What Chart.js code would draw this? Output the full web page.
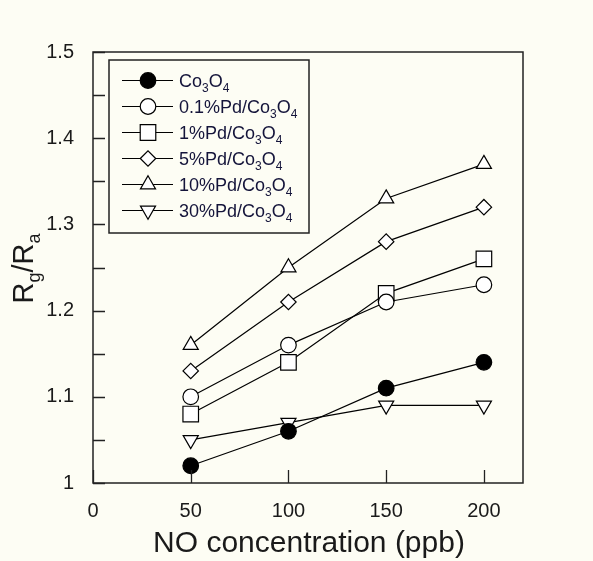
<!DOCTYPE html>
<html>
<head>
<meta charset="utf-8">
<script src="https://cdn.jsdelivr.net/npm/chart.js@4/dist/chart.umd.min.js"></script>
<style>
  html, body { margin: 0; padding: 0; background: #fdfdf4; }
  #wrap { width: 593px; height: 561px; position: relative; }
</style>
</head>
<body>
<div id="wrap"><canvas id="c" width="593" height="561"></canvas></div>
<script>
// ---- data ----
const concentrations = [50, 100, 150, 200];
const seriesNames = ["Co3O4", "0.1%Pd/Co3O4", "1%Pd/Co3O4", "5%Pd/Co3O4", "10%Pd/Co3O4", "30%Pd/Co3O4"];
const co3o4   = [1.02, 1.06, 1.11, 1.14];
const pd01    = [1.10, 1.16, 1.21, 1.23];
const pd1     = [1.08, 1.14, 1.22, 1.26];
const pd5     = [1.13, 1.21, 1.28, 1.32];
const pd10    = [1.16, 1.25, 1.33, 1.37];
const pd30    = [1.05, 1.07, 1.09, 1.09];
const xTickValues = [0, 50, 100, 150, 200];
const yTickValues = [1, 1.1, 1.2, 1.3, 1.4, 1.5];
const yMinorTickValues = [1.05, 1.15, 1.25, 1.35, 1.45];

const seriesValues = [co3o4, pd01, pd1, pd5, pd10, pd30];
const styles = [
  { pointStyle: 'circle',   radius: 7.8, rotation: 0,   fill: '#000000' },
  { pointStyle: 'circle',   radius: 7.8, rotation: 0,   fill: '#ffffff' },
  { pointStyle: 'rect',     radius: 11,  rotation: 0,   fill: '#ffffff' },
  { pointStyle: 'rectRot',  radius: 7.7, rotation: 0,   fill: '#ffffff' },
  { pointStyle: 'triangle', radius: 8.7, rotation: 0,   fill: '#ffffff' },
  { pointStyle: 'triangle', radius: 8.7, rotation: 180, fill: '#ffffff' }
];

const BG = '#fdfdf4';
const INK = '#1a1a1a';
const FONT = '"Liberation Sans", Arial, sans-serif';

const datasets = seriesValues.map((vals, i) => ({
  label: seriesNames[i],
  data: concentrations.map((x, j) => ({ x: x, y: vals[j] })),
  borderColor: '#000',
  borderWidth: 1.2,
  pointStyle: styles[i].pointStyle,
  pointRadius: styles[i].radius,
  pointHoverRadius: styles[i].radius,
  pointRotation: styles[i].rotation,
  pointBackgroundColor: styles[i].fill,
  pointBorderColor: '#000',
  pointBorderWidth: 1.2,
  fill: false,
  tension: 0
}));

// draw text with subscripts: parts = [[text, isSub], ...]
function drawRich(ctx, parts, x, y, size, subSize, subOff, align) {
  let total = 0;
  parts.forEach(p => {
    ctx.font = (p[1] ? subSize : size) + 'px ' + FONT;
    total += ctx.measureText(p[0]).width;
  });
  let cx = align === 'center' ? x - total / 2 : x;
  ctx.textAlign = 'left';
  ctx.textBaseline = 'alphabetic';
  parts.forEach(p => {
    ctx.font = (p[1] ? subSize : size) + 'px ' + FONT;
    ctx.fillText(p[0], cx, y + (p[1] ? subOff : 0));
    cx += ctx.measureText(p[0]).width;
  });
}

function nameParts(name) {
  const base = name.replace('Co3O4', '');
  return [[base + 'Co', false], ['3', true], ['O', false], ['4', true]];
}

const decor = {
  id: 'decor',
  beforeDraw(chart) {
    const ctx = chart.ctx;
    ctx.save();
    ctx.fillStyle = BG;
    ctx.fillRect(0, 0, chart.width, chart.height);
    ctx.restore();
  },
  afterDatasetsDraw(chart) {
    const ctx = chart.ctx;
    const a = chart.chartArea;
    const xs = chart.scales.x, ys = chart.scales.y;
    ctx.save();
    // frame
    ctx.strokeStyle = '#222';
    ctx.lineWidth = 1.5;
    ctx.strokeRect(a.left, a.top, a.right - a.left, a.bottom - a.top);
    // inward ticks
    ctx.lineWidth = 1.3;
    ctx.beginPath();
    yTickValues.concat(yMinorTickValues).forEach(v => {
      const py = Math.round(ys.getPixelForValue(v)) + 0.5;
      ctx.moveTo(a.left, py); ctx.lineTo(a.left + 12, py);
    });
    xTickValues.forEach(v => {
      const px = Math.round(xs.getPixelForValue(v)) + 0.5;
      ctx.moveTo(px, a.bottom); ctx.lineTo(px, a.bottom - 13);
    });
    ctx.stroke();

    // legend
    const lx = 109, ly = 60, lw = 200, lh = 173;
    ctx.fillStyle = BG;
    ctx.fillRect(lx, ly, lw, lh);
    ctx.strokeStyle = '#222';
    ctx.lineWidth = 1.5;
    ctx.strokeRect(lx, ly, lw, lh);
    seriesNames.forEach((name, i) => {
      const cy = 80.5 + i * 26;
      ctx.strokeStyle = '#000';
      ctx.lineWidth = 1.2;
      ctx.beginPath();
      ctx.moveTo(122, cy); ctx.lineTo(173, cy);
      ctx.stroke();
      ctx.fillStyle = styles[i].fill;
      ctx.strokeStyle = '#000';
      ctx.lineWidth = 1.2;
      Chart.helpers.drawPoint(ctx, {
        pointStyle: styles[i].pointStyle,
        radius: styles[i].radius,
        rotation: styles[i].rotation,
        borderWidth: 1.2
      }, 148, cy);
      ctx.fillStyle = '#14143a';
      drawRich(ctx, nameParts(name), 179, cy + 6.5, 18, 12, 5, 'left');
    });

    // axis titles
    ctx.fillStyle = INK;
    drawRich(ctx, [['NO concentration (ppb)', false]], (a.left + a.right) / 2 + 1, 552, 30, 18, 0, 'center');
    ctx.save();
    ctx.translate(33, (a.top + a.bottom) / 2 + 1);
    ctx.rotate(-Math.PI / 2);
    drawRich(ctx, [['R', false], ['g', true], ['/R', false], ['a', true]], 0, 0, 29, 18, 7, 'center');
    ctx.restore();
    ctx.restore();
  }
};

new Chart(document.getElementById('c'), {
  type: 'line',
  data: { datasets: datasets },
  options: {
    responsive: false,
    animation: false,
    devicePixelRatio: 1,
    layout: { padding: { top: 52, right: 70, left: 0, bottom: 0 } },
    plugins: { legend: { display: false }, tooltip: { enabled: false }, title: { display: false } },
    scales: {
      x: {
        type: 'linear',
        min: 0, max: 220,
        grid: { display: false },
        border: { display: false },
        afterFit(scale) { scale.height = 78; },
        afterBuildTicks(scale) { scale.ticks = xTickValues.map(v => ({ value: v })); },
        ticks: {
          color: INK,
          font: { family: FONT, size: 20 },
          padding: 8,
          maxRotation: 0,
          autoSkip: false,
          callback: v => String(v)
        }
      },
      y: {
        type: 'linear',
        min: 1, max: 1.5,
        grid: { display: false },
        border: { display: false },
        afterFit(scale) { scale.width = 93; },
        afterBuildTicks(scale) { scale.ticks = yTickValues.map(v => ({ value: v })); },
        ticks: {
          color: INK,
          font: { family: FONT, size: 20 },
          padding: 11,
          autoSkip: false,
          callback: v => String(Math.round(v * 10) / 10)
        }
      }
    }
  },
  plugins: [decor]
});
</script>
</body>
</html>
